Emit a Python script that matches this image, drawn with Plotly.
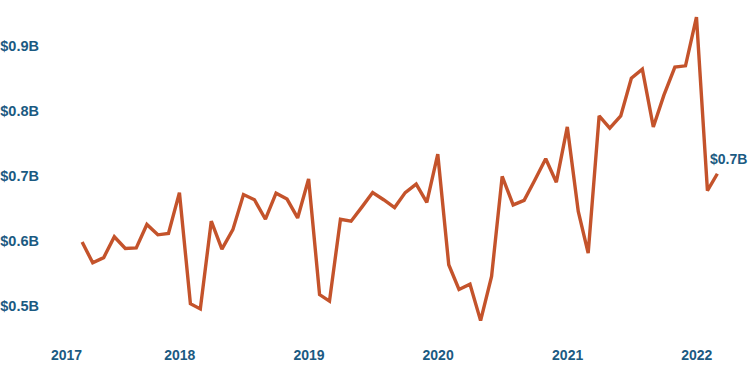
import plotly.graph_objects as go
import pandas as pd

dates = pd.date_range("2017-03-31", "2022-02-28", freq="ME")
values = [
    0.598, 0.566, 0.574, 0.606, 0.588, 0.589, 0.625, 0.609, 0.611, 0.674,
    0.503, 0.495, 0.630, 0.587, 0.617, 0.671, 0.663, 0.633, 0.673, 0.664,
    0.635, 0.695, 0.517, 0.507, 0.633, 0.630, 0.652, 0.674, 0.663, 0.651,
    0.674, 0.687, 0.659, 0.733, 0.563, 0.525, 0.533, 0.477, 0.545, 0.699,
    0.655, 0.662, 0.693, 0.726, 0.690, 0.775, 0.645, 0.581, 0.792, 0.773,
    0.792, 0.850, 0.864, 0.775, 0.824, 0.867, 0.869, 0.944, 0.677, 0.703,
]
x_tickvals = ["2017-02-15", "2018-01-01", "2019-01-01", "2020-01-01", "2021-01-01", "2022-01-01"]
x_ticktext = ["2017", "2018", "2019", "2020", "2021", "2022"]
y_tickvals = [0.5, 0.6, 0.7, 0.8, 0.9]
y_ticktext = ["$0.5B", "$0.6B", "$0.7B", "$0.8B", "$0.9B"]
end_label = "$0.7B"

LINE = "#c4532b"
TEXT = "#1b5a82"
font = dict(family="Liberation Sans, Arial, sans-serif", size=14, color=TEXT)
yfont = dict(family="Liberation Sans, Arial, sans-serif", size=14.5, color=TEXT)

fig = go.Figure()
fig.add_trace(go.Scatter(x=dates, y=values, mode="lines",
                         line=dict(color=LINE, width=3.4), hoverinfo="skip",
                         cliponaxis=False))
fig.add_annotation(x=dates[-1], y=values[-1], text="<b>%s</b>" % end_label,
                   showarrow=False, xanchor="left", yanchor="bottom",
                   xshift=-9, yshift=5, font=font)
fig.update_layout(
    width=750, height=375,
    margin=dict(l=40, r=10, t=10, b=40, autoexpand=False),
    paper_bgcolor="white", plot_bgcolor="white",
    showlegend=False,
    font=font,
    xaxis=dict(range=["2016-12-02", "2022-05-03"], tickvals=x_tickvals,
               ticktext=["<b>%s</b>" % t for t in x_ticktext],
               automargin=False,
               showgrid=False, zeroline=False, showline=False,
               ticks="outside", ticklen=7, tickcolor="rgba(0,0,0,0)"),
    yaxis=dict(range=[0.4549, 0.9549], tickvals=y_tickvals,
               ticktext=["<b>%s</b>" % t for t in y_ticktext],
               tickfont=yfont, automargin=False,
               showgrid=False, zeroline=False, showline=False),
)
fig.write_html("out.html", config={"displayModeBar": False},
               post_script="document.body.style.margin='0';document.body.style.overflow='hidden';")
